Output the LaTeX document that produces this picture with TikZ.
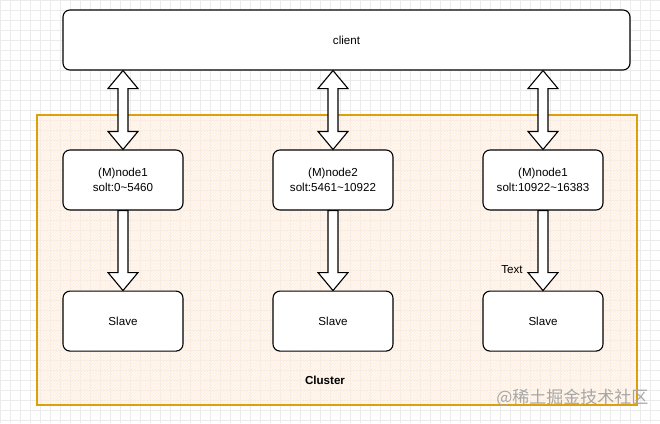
\documentclass[tikz,border=0pt]{standalone}
\usepackage{fontspec}
\setmainfont{Liberation Sans}
\newfontfamily\cjk{Noto Sans CJK SC}
\usetikzlibrary{positioning,calc,patterns}
\definecolor{clborder}{RGB}{222,160,10}
\definecolor{clfill}{RGB}{255,244,232}
\tikzset{
  box/.style={draw=black,line width=1.1pt,fill=white,rounded corners=7pt,minimum width=120pt,minimum height=60pt,align=center,font=\fontsize{11.6}{14.5}\selectfont},
  blockarr/.style={draw=black,line width=1.1pt,fill=white,line join=miter},
}
\begin{document}
\begin{tikzpicture}[x=1pt,y=-1pt]
\useasboundingbox (0,0) rectangle (660,423);
\fill[white] (0,0) rectangle (660,423);
\draw[step=10pt,black!8,very thin] (0,0) grid (660,423);
% cluster area
\fill[clfill,opacity=.5] (37,115) rectangle (637,405);
\fill[pattern=north east lines,pattern color=orange!15] (37,115) rectangle (637,405);
\draw[clborder,line width=1.3pt] (37,115) rectangle (637,405);
\node[font=\bfseries\fontsize{11.6}{14}\selectfont] (cl) at (325,380) {Cluster};
% boxes
\node[box,minimum width=567pt] (client) at (346.5,40) {client};
\node[box] (n1) at (123,180) {(M)node1\\solt:0\textasciitilde5460};
\node[box] (n2) at (333,180) {(M)node2\\solt:5461\textasciitilde10922};
\node[box] (n3) at (543,180) {(M)node1\\solt:10922\textasciitilde16383};
\foreach \i in {1,2,3} {
  \node[box,below=80pt of n\i] (s\i) {Slave};
}
% arrows
\foreach \i in {1,2,3} {
  \draw[blockarr] (n\i.north |- client.south) -- ++(15,18) -- ++(-10,0)
    -- ($(n\i.north)+(5,-18)$) -- ++(10,0) -- (n\i.north) -- ++(-15,-18)
    -- ++(10,0) -- ($(n\i.north |- client.south)+(-5,18)$) -- ++(-10,0) -- cycle;
  \draw[blockarr] ($(n\i.south)+(-5,0)$) -- ($(s\i.north)+(-5,-18)$) -- ++(-10,0)
    -- (s\i.north) -- ++(15,-18) -- ++(-10,0) -- ($(n\i.south)+(5,0)$) -- cycle;
}
\node[font=\fontsize{11.6}{14}\selectfont] (lbl) at ($(s3.north)+(-31,-21)$) {Text};
% watermark
\node[text=black!35,font=\cjk\fontsize{17}{19}\selectfont,anchor=east] (wm) at (652,398) {@稀土掘金技术社区};
\end{tikzpicture}
\end{document}
